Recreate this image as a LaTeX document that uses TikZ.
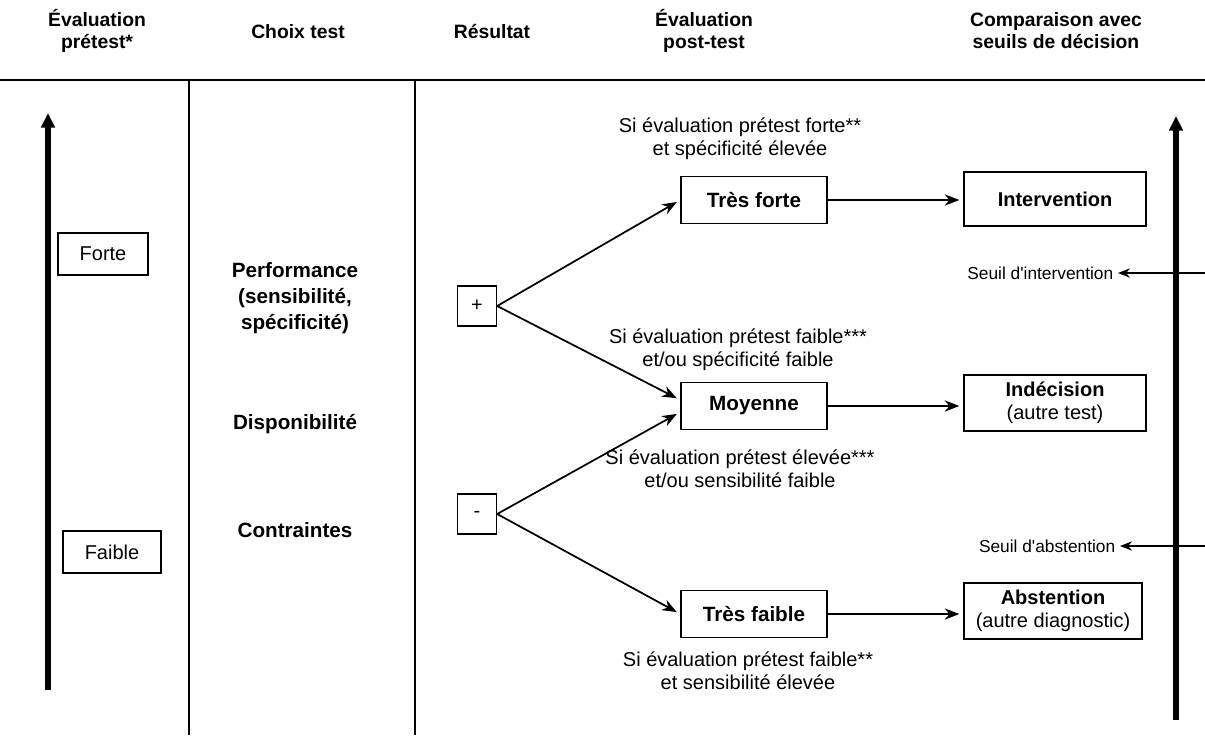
\documentclass[tikz,border=0pt]{standalone}
\usepackage{fontspec}
\setmainfont{Liberation Sans}[Ligatures=TeXOff]
\usetikzlibrary{arrows.meta,calc}
\begin{document}
\begin{tikzpicture}[x=0.75pt,y=-0.75pt,
  hdr/.style={font=\bfseries\fontsize{14.5}{16.5}\selectfont, align=center},
  body/.style={font=\fontsize{15}{17.5}\selectfont, align=center},
  bbody/.style={font=\bfseries\fontsize{15.5}{19.5}\selectfont, align=center},
  dbox/.style={font=\fontsize{15}{17.5}\selectfont, align=center},
  small/.style={font=\fontsize{13}{15}\selectfont},
  box/.style={draw, line width=1pt, inner sep=0pt, align=center},
  conn/.style={line width=1.3pt, -{Stealth[length=11pt,width=8.5pt]}},
  thick arrow/.style={line width=3.8pt, -{Triangle[length=11pt,width=10pt]}},
  rule/.style={line width=0.9pt}
]
\useasboundingbox (0,0) rectangle (1205,735);

% headers
\node[hdr] (h1) at (97,31) {Évaluation\\prétest*};
\node[hdr] (h2) at (298,32) {Choix test};
\node[hdr] (h3) at (492,32) {Résultat};
\node[hdr] (h4) at (704,31) {Évaluation\\post-test};
\node[hdr] (h5) at (1056,31) {Comparaison avec\\seuils de décision};

% rules
\coordinate (tl) at (0,80);
\coordinate (tr) at (1205,80);
\draw[line width=1.5pt] (tl) -- (tr);
\coordinate (v1t) at (189,80);
\coordinate (v1b) at (189,735);
\coordinate (v2t) at (415,80);
\coordinate (v2b) at (415,735);
\draw[rule] (v1t) -- (v1b);
\draw[rule] (v2t) -- (v2b);

% left axis
\coordinate (la0) at (48,690);
\coordinate (la1) at (48,113);
\draw[thick arrow] (la0) -- (la1);
\node[box, body, minimum width=67.5pt, minimum height=31.5pt] (forte) at (103,254) {Forte};
\node[box, body, minimum width=73.5pt, minimum height=31.5pt] (faible) at (112,552) {Faible};

% column 2
\node[bbody] (perf) at (295,298) {Performance\\(sensibilité,\\spécificité)};
\node[bbody] (dispo) at (295,424) {Disponibilité};
\node[bbody] (contr) at (295,530) {Contraintes};

% result boxes
\node[box, body, minimum width=29.25pt, minimum height=30pt] (plus) at (477,306) {+};
\node[box, body, minimum width=29.25pt, minimum height=30pt] (minus) at (477,514) {-};

% post-test boxes
\node[box, bbody, minimum width=109.5pt, minimum height=35.25pt] (tf) at (754,200) {Très forte};
\node[box, bbody, minimum width=109.5pt, minimum height=35.25pt] (moy) at (754,406) {Moyenne};
\node[box, bbody, minimum width=109.5pt, minimum height=35.25pt] (tfa) at (754,614) {Très faible};

% decision boxes
\node[box, dbox, minimum width=136.5pt, minimum height=40.5pt] (inter) at (1055,199) {\textbf{Intervention}};
\node[box, dbox, minimum width=136.5pt, minimum height=42pt] (indec) at (1055,403) {\textbf{Indécision}\\(autre test)};
\node[box, dbox, minimum width=133.5pt, minimum height=42pt] (abst) at (1053,611) {\textbf{Abstention}\\(autre diagnostic)};

% condition labels
\node[body] (c1) at (740,139) {Si évaluation prétest forte**\\et spécificité élevée};
\node[body] (c2) at (738,350) {Si évaluation prétest faible***\\et/ou spécificité faible};
\node[body] (c3) at (740,469) {Si évaluation prétest élevée***\\et/ou sensibilité faible};
\node[body] (c4) at (748,671) {Si évaluation prétest faible**\\et sensibilité élevée};

% connectors
\draw[conn, shorten >=3pt] (plus.east) -- (tf.west);
\draw[conn, shorten >=3pt] (plus.east) -- ($(moy.west)+(0,-6)$);
\draw[conn, shorten >=3pt] (minus.east) -- ($(moy.west)+(0,6)$);
\draw[conn, shorten >=3pt] (minus.east) -- (tfa.west);
\draw[conn, shorten >=3pt] (tf.east) -- (tf.east -| inter.west);
\draw[conn, shorten >=3pt] (moy.east) -- (moy.east -| indec.west);
\draw[conn, shorten >=3pt] (tfa.east) -- (tfa.east -| abst.west);

% right axis
\coordinate (ra0) at (1176,720);
\coordinate (ra1) at (1176,116);
\draw[thick arrow] (ra0) -- (ra1);

\node[small, anchor=east] (si) at (1118,273) {Seuil d'intervention};
\node[small, anchor=east] (sa) at (1120,546) {Seuil d'abstention};
\coordinate (sie) at (1205,273);
\coordinate (sae) at (1205,546);
\draw[line width=1pt, -{Stealth[length=9pt,width=7pt]}] (sie) -- (si.east);
\draw[line width=1pt, -{Stealth[length=9pt,width=7pt]}] (sae) -- (sa.east);
\end{tikzpicture}
\end{document}
